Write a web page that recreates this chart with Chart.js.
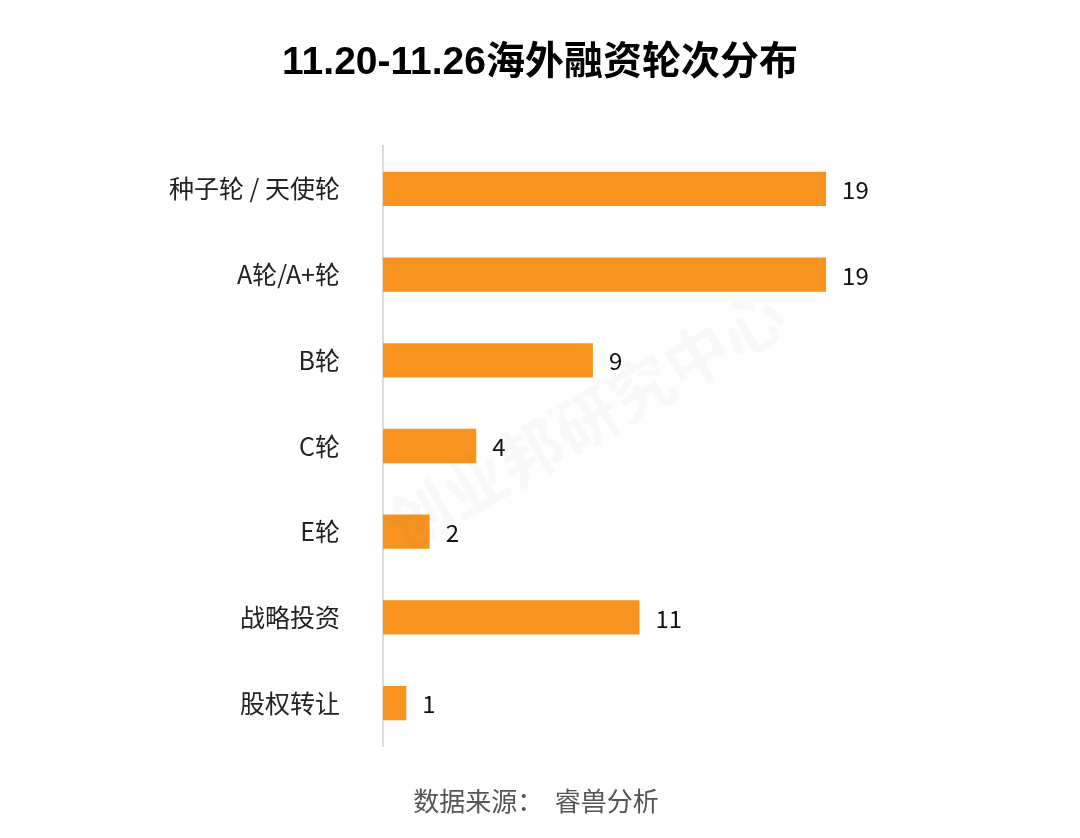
<!DOCTYPE html>
<html>
<head>
<meta charset="utf-8">
<script src="https://cdn.jsdelivr.net/npm/chart.js@4"></script>
<style>
  html, body { margin: 0; padding: 0; background: #ffffff; }
  #wrap { width: 1080px; height: 838px; position: relative; }
</style>
</head>
<body>
<div id="wrap"><canvas id="roundChart"></canvas></div>
<script>
        // 海外融资轮次分布
        const rounds = ['种子轮 / 天使轮', 'A轮/A+轮', 'B轮', 'C轮', 'E轮', '战略投资', '股权转让'];
        const dealCounts = [19, 19, 9, 4, 2, 11, 1];
        const titleText = '11.20-11.26海外融资轮次分布';
        const sourceText = '数据来源：  睿兽分析';
        const watermarkText = '创业邦研究中心';

        const latin = '"Liberation Sans", Arial, "Noto Sans CJK SC", sans-serif';
        const cjk = '"Noto Sans CJK SC", sans-serif';

        // title, source, value labels, watermark
        const textPlugin = {
            id: 'textPlugin',
            afterDatasetsDraw(chart) {
                const ctx = chart.ctx;
                const meta = chart.getDatasetMeta(0);
                ctx.save();
                ctx.fillStyle = '#111111';
                ctx.font = '24px ' + cjk;
                ctx.textAlign = 'left';
                ctx.textBaseline = 'middle';
                meta.data.forEach((bar, i) => {
                    ctx.fillText(String(dealCounts[i]), bar.x + 16, bar.y + 1);
                });
                ctx.restore();
            },
            afterDraw(chart) {
                const ctx = chart.ctx;
                ctx.save();
                ctx.textAlign = 'center';
                ctx.textBaseline = 'middle';
                ctx.fillStyle = '#000000';
                ctx.font = 'bold 39px ' + latin;
                ctx.fillText(titleText, 540, 63);
                ctx.fillStyle = '#555555';
                ctx.font = '26px ' + cjk;
                ctx.fillText(sourceText, 536, 801);
                // faint watermark
                ctx.translate(586, 420);
                ctx.rotate(-30 * Math.PI / 180);
                ctx.fillStyle = 'rgba(120,120,120,0.045)';
                ctx.font = 'bold 64px ' + cjk;
                ctx.fillText(watermarkText, 0, 0);
                ctx.restore();
            }
        };

        const roundCtx = document.getElementById('roundChart').getContext('2d');
        new Chart(roundCtx, {
            type: 'bar',
            data: {
                labels: rounds,
                datasets: [{
                    data: dealCounts,
                    backgroundColor: '#F7931E',
                    borderWidth: 0,
                    barPercentage: 0.8,
                    categoryPercentage: 0.5
                }]
            },
            options: {
                indexAxis: 'y',
                responsive: true,
                maintainAspectRatio: false,
                animation: false,
                layout: { padding: { top: 146, bottom: 92, right: 114, left: 0 } },
                plugins: {
                    legend: { display: false },
                    tooltip: { enabled: false },
                    title: { display: false }
                },
                scales: {
                    x: {
                        min: 0,
                        max: 25,
                        display: false,
                        grid: { display: false }
                    },
                    y: {
                        grid: { display: false, drawTicks: false },
                        border: { display: true, color: '#dcdcdc', width: 2 },
                        ticks: {
                            color: '#222222',
                            padding: 43,
                            font: { size: 25, family: cjk }
                        },
                        afterFit(scale) { scale.width = 383; }
                    }
                }
            },
            plugins: [textPlugin]
        });
</script>
</body>
</html>
